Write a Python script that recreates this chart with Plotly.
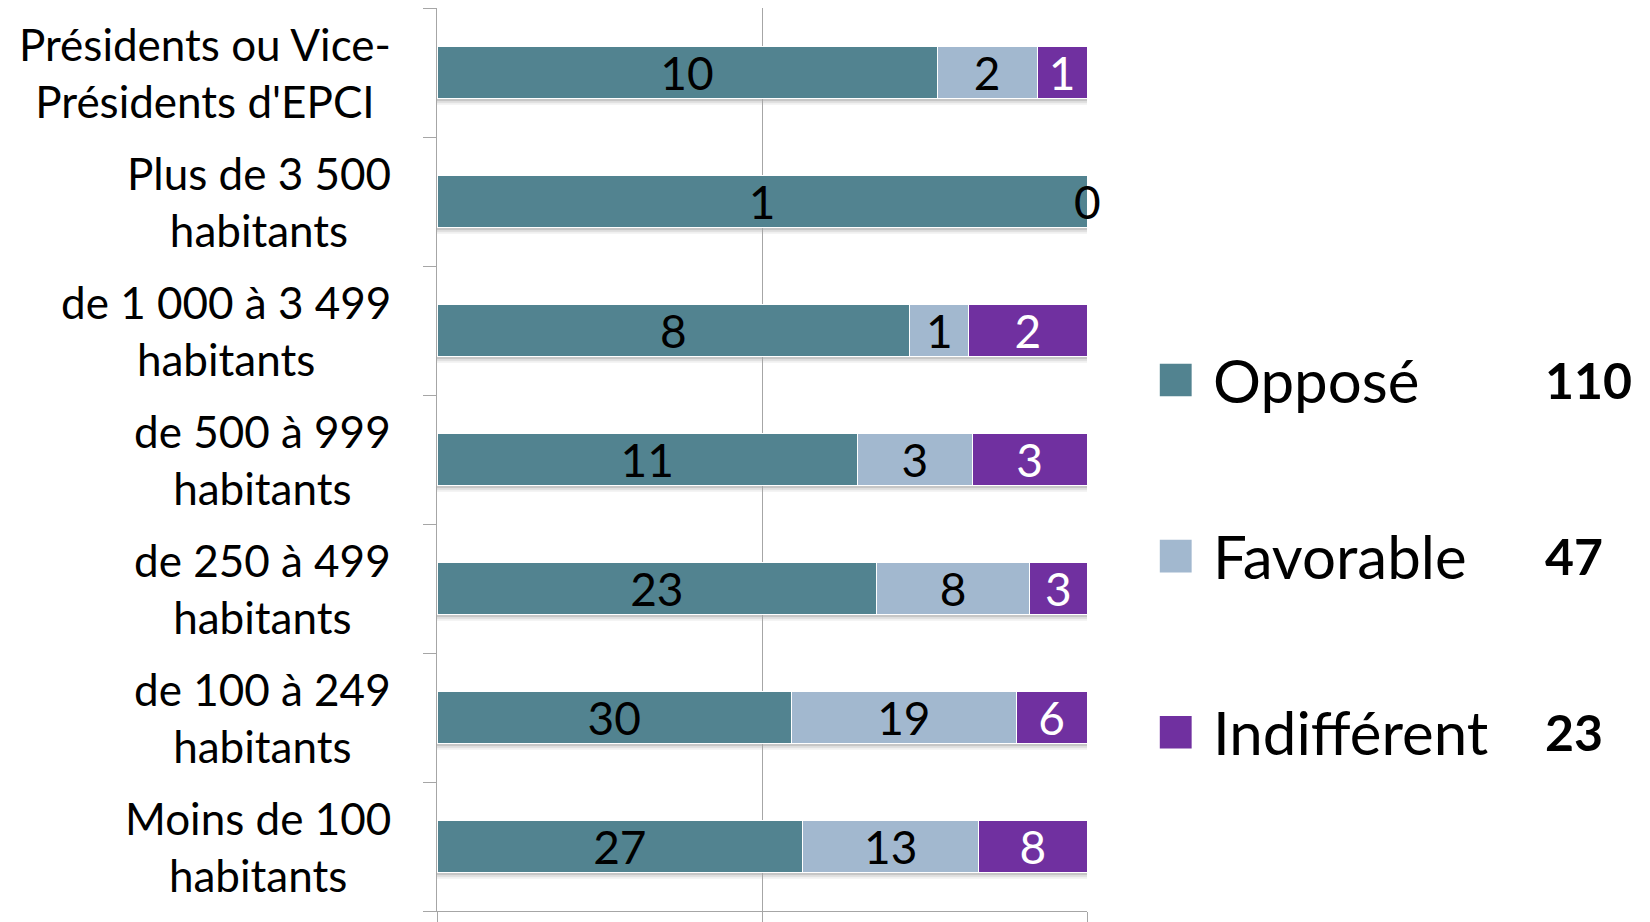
import plotly.graph_objects as go

categories = [
    "Moins de 100<br>habitants",
    "de 100 à 249<br>habitants",
    "de 250 à 499<br>habitants",
    "de 500 à 999<br>habitants",
    "de 1 000 à 3 499<br>habitants",
    "Plus de 3 500<br>habitants",
    "Présidents ou Vice-<br>Présidents d'EPCI",
]
oppose = [27, 30, 23, 11, 8, 1, 10]
favorable = [13, 19, 8, 3, 1, 0, 2]
indifferent = [8, 6, 3, 3, 2, 0, 1]

series_names = ["Opposé", "Favorable", "Indifférent"]
series_totals = ["110", "47", "23"]
colors = ["#528390", "#A2B8CF", "#7030A0"]
text_colors = ["#000000", "#000000", "#FFFFFF"]

FONT = "Lato"
BARGAP = 0.6
series = [oppose, favorable, indifferent]

fig = go.Figure()
for name, vals, col, tcol in zip(series_names, series, colors, text_colors):
    fig.add_trace(go.Bar(
        y=categories, x=vals, name=name, orientation="h",
        marker=dict(color=col, line=dict(color="white", width=1)),
        text=[str(v) if v > 0 else "" for v in vals],
        textposition="inside", insidetextanchor="middle", textangle=0,
        constraintext="none",
        insidetextfont=dict(color=tcol, size=46, family=FONT),
        showlegend=False,
    ))

annotations = []
shapes = []
# soft drop shadow under each bar
half = (1 - BARGAP) / 2
for i, cat in enumerate(categories):
    for k, (d, a) in enumerate([(0.05, 0.06), (0.035, 0.08), (0.02, 0.10)]):
        shapes.append(dict(type="rect", xref="x", yref="y", layer="below",
                           x0=0.0, x1=1.003, y0=i - half - d, y1=i - half,
                           fillcolor=f"rgba(0,0,0,{a})", line=dict(width=0)))

# labels for zero-valued segments, placed at their cumulative position
for i, cat in enumerate(categories):
    total = sum(s[i] for s in series)
    cum = 0
    for s in series:
        if s[i] == 0 and total > 0:
            annotations.append(dict(
                x=cum / total, y=cat, xref="x", yref="y", text="0",
                showarrow=False, font=dict(size=46, family=FONT, color="black"),
                xanchor="center", yanchor="middle"))
            break
        cum += s[i]

# category labels (centered lines)
for cat in categories:
    annotations.append(dict(
        x=0, y=cat, xref="paper", yref="y", text=cat, showarrow=False,
        xanchor="right", yanchor="middle", align="center", xshift=-44,
        font=dict(size=44, family=FONT, color="black")))

# legend
leg_y = [0.588, 0.393, 0.198]
for name, tot, col, yy in zip(series_names, series_totals, colors, leg_y):
    shapes.append(dict(type="rect", xref="paper", yref="paper",
                       x0=1.112, x1=1.161, y0=yy - 0.018, y1=yy + 0.018,
                       fillcolor=col, line=dict(width=0)))
    annotations.append(dict(x=1.19, y=yy, xref="paper", yref="paper", text=name,
                            showarrow=False, xanchor="left", yanchor="middle",
                            font=dict(size=60, family=FONT, color="black")))
    annotations.append(dict(x=1.702, y=yy, xref="paper", yref="paper",
                            text="<b>" + tot + "</b>",
                            showarrow=False, xanchor="left", yanchor="middle",
                            font=dict(size=50, family=FONT, color="black")))

fig.update_layout(
    barmode="stack", barnorm="fraction", bargap=BARGAP,
    width=1642, height=914,
    margin=dict(l=429, r=563, t=0, b=11),
    plot_bgcolor="white", paper_bgcolor="white",
    annotations=annotations, shapes=shapes,
    font=dict(family=FONT),
)
fig.update_xaxes(range=[0, 1], tickvals=[0, 0.5, 1], showticklabels=False,
                 showgrid=True, gridcolor="#A6A6A6", gridwidth=1,
                 showline=True, linecolor="#A6A6A6", linewidth=1,
                 ticks="outside", ticklen=11, tickcolor="#A6A6A6",
                 zeroline=False, fixedrange=True)
fig.update_yaxes(showticklabels=False, showgrid=False,
                 showline=True, linecolor="#A6A6A6", linewidth=1,
                 ticks="outside", tickson="boundaries", ticklen=13,
                 tickcolor="#A6A6A6", fixedrange=True)

fig.write_html("out.html")
